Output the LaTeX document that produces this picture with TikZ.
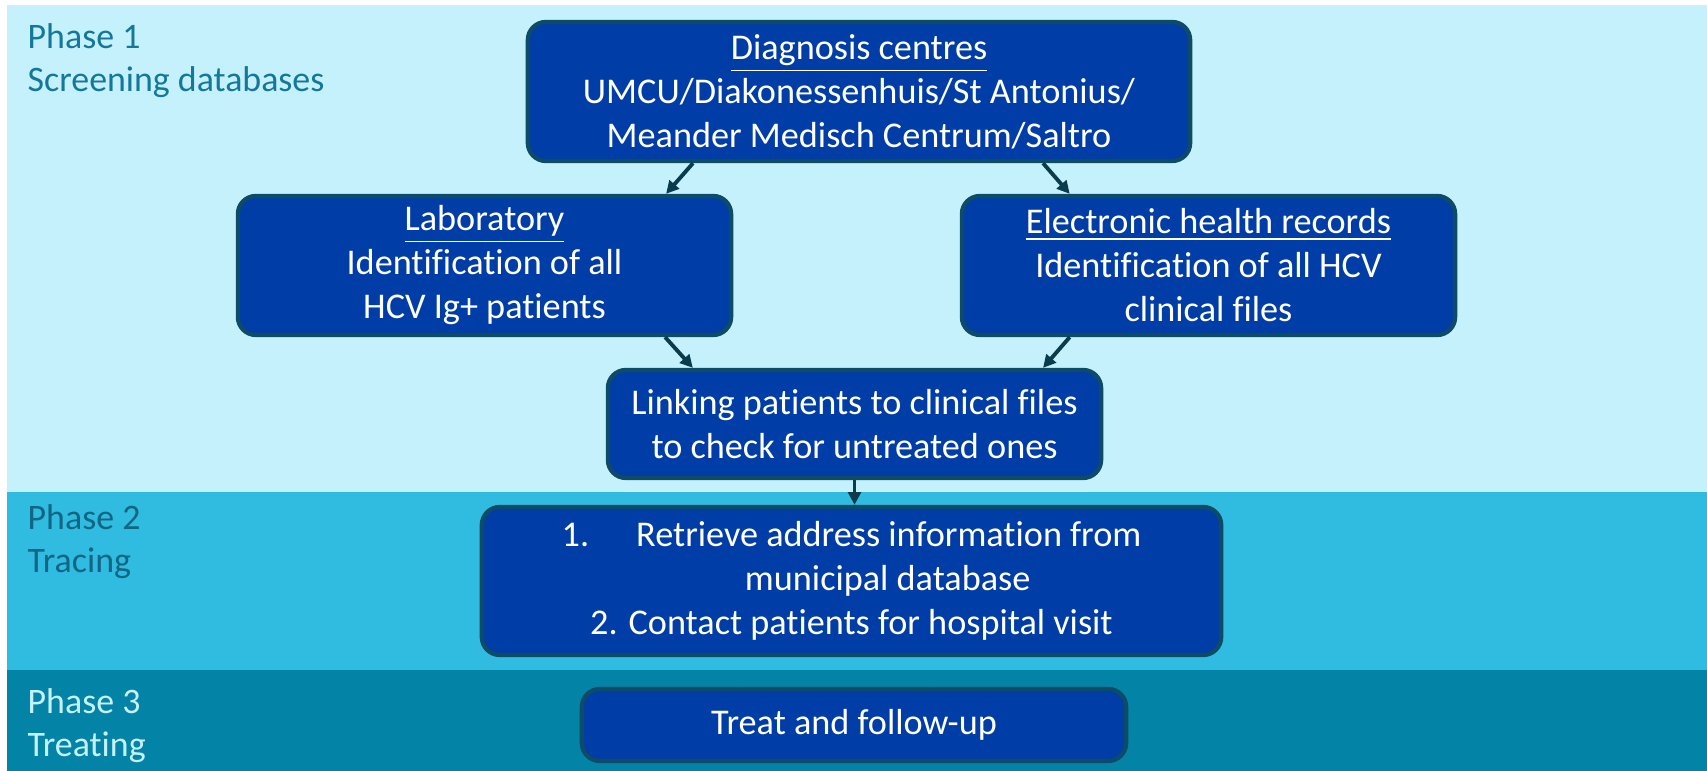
\documentclass[tikz,border=0pt]{standalone}
\usepackage{fontspec}
\setmainfont{Carlito}[Ligatures=CommonOff]
\usepackage{xcolor}
\usetikzlibrary{arrows.meta,calc,positioning}
\definecolor{bandone}{HTML}{C5F1FD}
\definecolor{bandtwo}{HTML}{2FBCE0}
\definecolor{bandthree}{HTML}{0383A5}
\definecolor{boxblue}{HTML}{003DA6}
\definecolor{boxline}{HTML}{0E4B66}
\definecolor{flowteal}{HTML}{0B3C4C}
\definecolor{phaseteal}{HTML}{13789A}

\begin{document}
\begin{tikzpicture}[x=0.01cm,y=0.01cm,
    box/.style={draw=boxline, fill=boxblue, line width=1.2pt, rounded corners=0.18cm,
        text=white, align=center, inner sep=0pt, font=\fontsize{10.3}{12.5}\selectfont},
    phase/.style={anchor=base west, align=left, inner sep=0pt, font=\fontsize{10.2}{12.5}\selectfont},
    flow/.style={draw=flowteal, line width=1.1pt, -{Triangle[length=3.6pt,width=3.6pt]}}]
    \useasboundingbox (0,0) rectangle (1707,771);
    %Bands
    \fill[bandone] (7,279) rectangle (1707,766);
    \fill[bandtwo] (7,101) rectangle (1707,279);
    \fill[bandthree] (7,0) rectangle (1707,101);
    %Phase labels (placed at the baseline of their last line)
    \node[phase, text=phaseteal] (phase1) at (27,679) {Phase 1\\Screening databases};
    \node[phase, text=phaseteal!85!black] (phase2) at (27,198) {Phase 2\\Tracing};
    \node[phase, text=bandone] (phase3) at (27,14) {Phase 3\\Treating};
    %Boxes
    \node[box, minimum width=6.62cm, minimum height=1.39cm] (diag) at (859,679.5)
        {\underline{Diagnosis centres}\\UMCU/Diakonessenhuis/St Antonius/\\Meander Medisch Centrum/Saltro};
    \node[box, minimum width=4.93cm, minimum height=1.39cm] (lab) at (484.5,505.5)
        {\underline{Laboratory}\\Identification of all\\HCV Ig+ patients};
    \node[box, minimum width=4.93cm, minimum height=1.39cm] (ehr) at (1208.5,505.5)
        {\underline{Electronic health records}\\Identification of all HCV\\clinical files};
    \node[box, minimum width=4.93cm, minimum height=1.08cm] (link) at (854.5,347)
        {Linking patients to clinical files\\to check for untreated ones};
    \node[box, minimum width=7.39cm, minimum height=1.48cm] (trace) at (851.5,190)
        {1.\hspace{1.3em}Retrieve address information from\\\hspace*{2em}municipal database\\2. Contact patients for hospital visit};
    \node[box, minimum width=5.44cm, minimum height=0.72cm] (treat) at (854,46)
        {Treat and follow-up};
    %Arrows
    \draw[flow] ($(diag.south west)!0.251!(diag.south east)$) -- ($(lab.north west)!0.865!(lab.north east)$);
    \draw[flow] ($(diag.south west)!0.776!(diag.south east)$) -- ($(ehr.north west)!0.221!(ehr.north east)$);
    \draw[flow] ($(lab.south west)!0.863!(lab.south east)$) -- ($(link.north west)!0.175!(link.north east)$);
    \draw[flow] ($(ehr.south west)!0.221!(ehr.south east)$) -- ($(link.north west)!0.879!(link.north east)$);
    \draw[flow] (link.south) -- (link.south |- trace.north);
\end{tikzpicture}
\end{document}
